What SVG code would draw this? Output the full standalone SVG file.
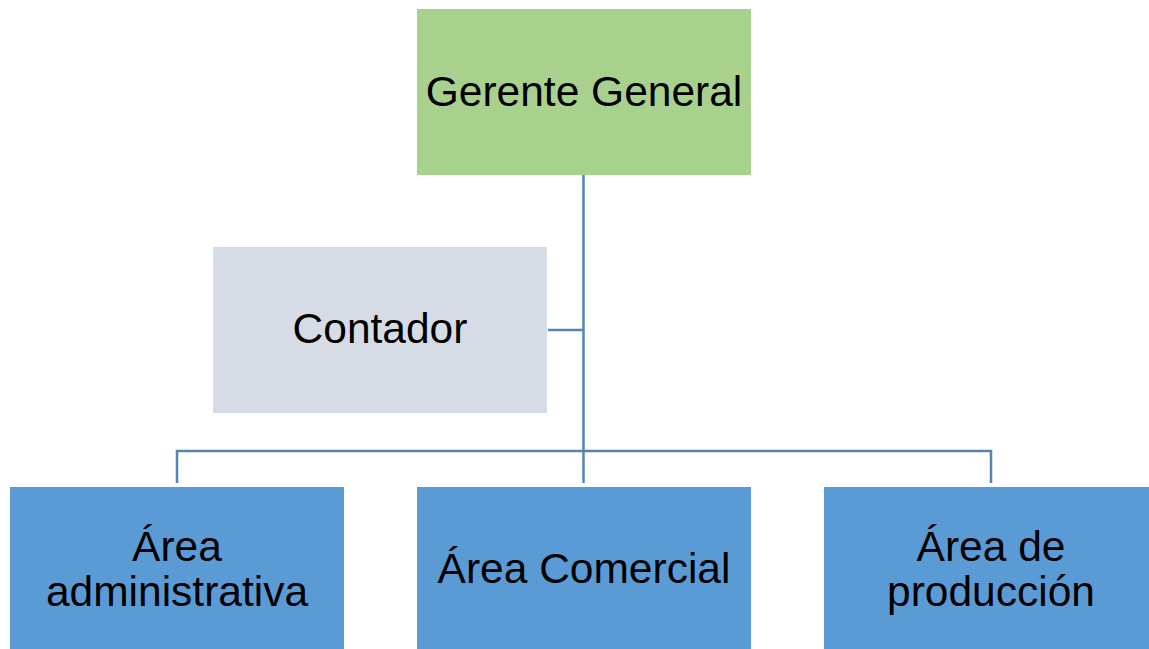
<svg xmlns="http://www.w3.org/2000/svg" width="1149" height="649" viewBox="0 0 1149 649">
<style>
.t{font-family:"Liberation Sans",Arial,sans-serif;font-size:42.5px;fill:#000;text-anchor:middle}
.c{fill:none;stroke:#5585b5;stroke-width:2.5}
</style>
<rect width="1149" height="649" fill="#fff"/>
<g id="connectors">
<path class="c" d="M583.5 175V483"/>
<path class="c" d="M548 330H583.5"/>
<path class="c" d="M177 483V451H991V483"/>
</g>
<g id="gerente">
<rect x="417" y="9" width="334" height="166" fill="#a9d18e"/>
<text class="t" x="584" y="106">Gerente General</text>
</g>
<g id="contador">
<rect x="213" y="247" width="334" height="166" fill="#d6dce5"/>
<text class="t" x="380" y="343">Contador</text>
</g>
<g id="admin">
<rect x="10" y="487" width="334" height="166" fill="#5b9bd5"/>
<text class="t" x="177" y="561">Área</text>
<text class="t" x="177" y="606">administrativa</text>
</g>
<g id="comercial">
<rect x="417" y="487" width="334" height="166" fill="#5b9bd5"/>
<text class="t" x="584" y="583">Área Comercial</text>
</g>
<g id="produccion">
<rect x="824" y="487" width="334" height="166" fill="#5b9bd5"/>
<text class="t" x="991" y="561">Área de</text>
<text class="t" x="991" y="606">producción</text>
</g>
</svg>
